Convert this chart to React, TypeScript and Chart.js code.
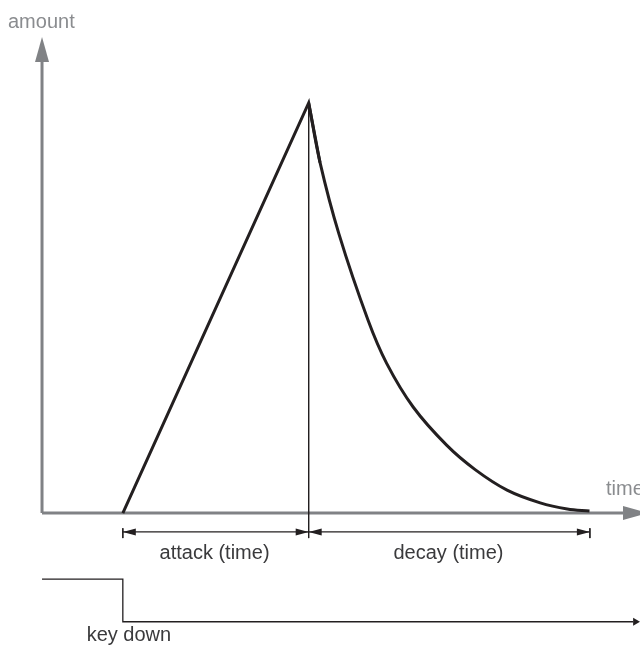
import React, { useEffect, useRef } from "react";
import { Chart, registerables } from "chart.js";

Chart.register(...registerables);

// ---- data (time in arbitrary units, amount normalised so that the peak = 1) ----
const attackTime = [2.0, 6.6];
const attackAmount = [0, 1];

const decayTime = [6.6, 6.88, 7.35, 8.07, 8.53, 9.19, 10.02, 10.72, 11.51, 12.33, 13.0, 13.55];
const decayAmount = [1, 0.855, 0.68, 0.47, 0.365, 0.258, 0.165, 0.106, 0.056, 0.025, 0.01, 0.005];

// key (gate) signal shown under the time axis
const keyTime = [0, 2.0, 2.0, 14.63];
const keyLevel = [-0.161, -0.161, -0.265, -0.265];

// axes of the diagram
const axisTimeEnd = 14.38;
const axisAmountEnd = 1.1;

// dimension lines
const dimLevel = -0.046;
const dimTickTop = -0.037;
const dimTickBottom = -0.061;
const attackSpan = [2.0, 6.6];
const decaySpan = [6.6, 13.56];

// labels
const labelTexts = ["amount", "time", "attack (time)", "decay (time)", "key down"];
const labelTime = [-0.842, 13.96, 4.27, 10.06, 2.15];
const labelAmount = [1.183, 0.044, -0.112, -0.112, -0.312];
const labelAlign = ["left", "left", "center", "center", "center"];
const labelGray = [true, true, false, false, false];

const X_MIN = -1.04;
const X_MAX = 14.8;
const Y_MIN = -0.329;
const Y_MAX = 1.251;

const INK = "#231f20";
const AXIS = "#808285";

const pts = (xs: number[], ys: number[]) => xs.map((x, i) => ({ x, y: ys[i] }));

const arrowPlugin = {
  id: "diagramArrows",
  afterDatasetsDraw(chart: any) {
    const { ctx } = chart;
    const xs = chart.scales.x;
    const ys = chart.scales.y;
    chart.data.datasets.forEach((ds: any, i: number) => {
      const meta = chart.getDatasetMeta(i);
      const el = meta.data;
      if (!el || el.length < 2) return;
      const head = (p: any, q: any, spec: any) => {
        let dx = p.x - q.x;
        let dy = p.y - q.y;
        const L = Math.hypot(dx, dy) || 1;
        dx /= L;
        dy /= L;
        let tipX = p.x, tipY = p.y, baseX, baseY;
        if (spec.mode === "beyond") {
          tipX = p.x + dx * spec.len;
          tipY = p.y + dy * spec.len;
          baseX = p.x;
          baseY = p.y;
        } else {
          baseX = p.x - dx * spec.len;
          baseY = p.y - dy * spec.len;
        }
        const nx = -dy, ny = dx;
        ctx.save();
        ctx.fillStyle = spec.color;
        ctx.beginPath();
        ctx.moveTo(tipX, tipY);
        ctx.lineTo(baseX + nx * spec.width / 2, baseY + ny * spec.width / 2);
        ctx.lineTo(baseX - nx * spec.width / 2, baseY - ny * spec.width / 2);
        ctx.closePath();
        ctx.fill();
        ctx.restore();
      };
      if (ds.arrowEnd) head(el[el.length - 1], el[el.length - 2], ds.arrowEnd);
      if (ds.arrowStart) head(el[0], el[1], ds.arrowStart);
    });

    ctx.save();
    ctx.font = "20px 'Liberation Sans', Arial, sans-serif";
    ctx.textBaseline = "alphabetic";
    labelTexts.forEach((t, i) => {
      ctx.fillStyle = labelGray[i] ? "#8a8c8f" : "#3a3a3c";
      ctx.textAlign = labelAlign[i] as CanvasTextAlign;
      ctx.fillText(t, xs.getPixelForValue(labelTime[i]), ys.getPixelForValue(labelAmount[i]));
    });
    ctx.restore();
  },
};

export default function App() {
  const ref = useRef<HTMLCanvasElement | null>(null);
  useEffect(() => {
    if (!ref.current) return;
    const line = (data: any[], extra: any) => ({
      data,
      showLine: true,
      pointRadius: 0,
      pointHoverRadius: 0,
      fill: false,
      tension: 0,
      borderCapStyle: "butt",
      borderJoinStyle: "miter",
      ...extra,
    });
    const chart = new Chart(ref.current, {
      type: "scatter",
      data: {
        datasets: [
          // attack (also runs a short way into the decay so the peak is a sharp mitred corner)
          line(pts([...attackTime, decayTime[1]], [...attackAmount, decayAmount[1]]), {
            borderColor: INK,
            borderWidth: 3,
            order: 0,
          }),
          line(pts(decayTime, decayAmount), {
            borderColor: INK,
            borderWidth: 3,
            tension: 0.35,
            order: 0,
          }),
          // time axis
          line(pts([0, axisTimeEnd], [0, 0]), {
            borderColor: AXIS,
            borderWidth: 3,
            order: 5,
            arrowEnd: { mode: "beyond", len: 25, width: 14, color: AXIS },
          }),
          // amount axis
          line(pts([0, 0], [0, axisAmountEnd]), {
            borderColor: AXIS,
            borderWidth: 3,
            order: 5,
            arrowEnd: { mode: "beyond", len: 25, width: 14, color: AXIS },
          }),
          // peak marker line
          line(pts([attackTime[1], attackTime[1]], [attackAmount[1], dimTickBottom]), {
            borderColor: INK,
            borderWidth: 1,
            order: 3,
          }),
          // attack dimension
          line(pts(attackSpan, [dimLevel, dimLevel]), {
            borderColor: INK,
            borderWidth: 1.3,
            order: 3,
            arrowStart: { mode: "at", len: 13, width: 7, color: INK },
            arrowEnd: { mode: "at", len: 13, width: 7, color: INK },
          }),
          line(pts([attackSpan[0], attackSpan[0]], [dimTickTop, dimTickBottom]), {
            borderColor: INK,
            borderWidth: 1,
            order: 3,
          }),
          // decay dimension
          line(pts(decaySpan, [dimLevel, dimLevel]), {
            borderColor: INK,
            borderWidth: 1.3,
            order: 3,
            arrowStart: { mode: "at", len: 13, width: 7, color: INK },
            arrowEnd: { mode: "at", len: 13, width: 7, color: INK },
          }),
          line(pts([decaySpan[1], decaySpan[1]], [dimTickTop, dimTickBottom]), {
            borderColor: INK,
            borderWidth: 1,
            order: 3,
          }),
          // key signal
          line(pts(keyTime, keyLevel), {
            borderColor: INK,
            borderWidth: 1.3,
            order: 3,
            arrowEnd: { mode: "beyond", len: 7, width: 8, color: INK },
          }),
        ] as any,
      },
      options: {
        animation: false,
        responsive: true,
        maintainAspectRatio: false,
        events: [],
        layout: { padding: 0 },
        plugins: { legend: { display: false }, tooltip: { enabled: false } },
        scales: {
          x: { type: "linear", min: X_MIN, max: X_MAX, display: false },
          y: { type: "linear", min: Y_MIN, max: Y_MAX, display: false },
        },
      },
      plugins: [arrowPlugin],
    });
    return () => chart.destroy();
  }, []);

  return (
    <div style={{ position: "absolute", left: 0, top: 0, width: 640, height: 648, background: "#fff" }}>
      <canvas ref={ref} />
    </div>
  );
}
